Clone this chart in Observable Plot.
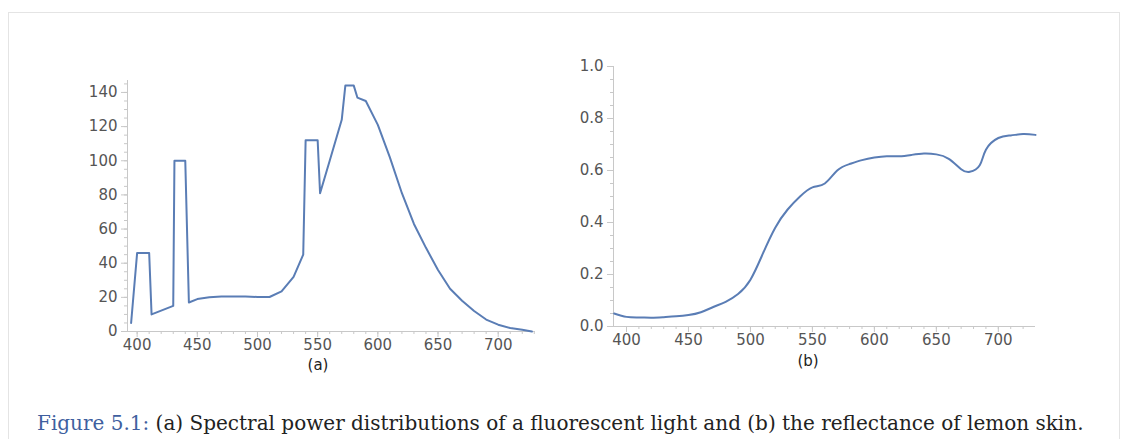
<!DOCTYPE html>
<html><head><meta charset="utf-8">
<script src="https://cdn.jsdelivr.net/npm/d3@7"></script>
<script src="https://cdn.jsdelivr.net/npm/@observablehq/plot@0.6"></script>
<style>
body{margin:0;background:#fff;width:1129px;height:439px;position:relative;overflow:hidden;font-family:"DejaVu Sans",sans-serif}
.frame{position:absolute;left:8px;top:12px;width:1110px;height:440px;border:1px solid #e4e4e4;border-bottom:none}
.p{position:absolute}
.lab{position:absolute;font-size:15px;color:#222;transform:translateX(-50%)}
.cap{position:absolute;left:37px;top:411px;font-family:"DejaVu Serif",serif;font-size:20px;color:#222;white-space:nowrap}
.cap span{color:#3f5f9f}
</style></head><body>
<div class="frame"></div>
<div id="a" class="p" style="left:80px;top:60px"></div>
<div id="b" class="p" style="left:560px;top:50px"></div>
<div class="lab" style="left:318px;top:356px">(a)</div>
<div class="lab" style="left:808px;top:352px">(b)</div>
<div class="cap"><span>Figure 5.1:</span> (a) Spectral power distributions of a fluorescent light and (b) the reflectance of lemon skin.</div>
<script>
const fluoWl = [395,400,410,412,430,431,440,443,450,460,470,490,500,510,520,530,538,540,550,552,560,570,573,580,583,590,600,610,620,630,640,650,660,670,680,690,700,710,720,728];
const fluoPower = [5,46,46,10,15,100,100,17,19,20,20.5,20.5,20.2,20.2,23.5,32,45,112,112,81,100,124,144,144,137,135,121,102,81,63,49,36,25,18,12,7,4,2,1,0];
const lemonWl = [390,400,410,420,430,440,450,460,470,480,490,500,510,520,530,540,550,560,570,580,590,600,610,620,630,640,650,660,670,677,685,690,700,710,720,730];
const lemonRefl = [0.05,0.037,0.035,0.034,0.036,0.039,0.044,0.055,0.075,0.095,0.125,0.18,0.28,0.38,0.45,0.5,0.535,0.55,0.6,0.625,0.64,0.65,0.655,0.655,0.66,0.665,0.662,0.645,0.605,0.595,0.62,0.68,0.725,0.735,0.74,0.737];

const LINE = "#5a7db5", AX = "#c8c8c8", TXT = "#555";
const blank = () => "";
function chart(o) {
  const data = o.xs.map((x, i) => ({x, y: o.ys[i]}));
  return Plot.plot({
    width: o.w, height: o.h,
    marginLeft: o.ml, marginRight: 15, marginTop: o.mt, marginBottom: o.mb,
    style: {fontFamily: "DejaVu Sans", fontSize: "15px", color: TXT, background: "transparent"},
    x: {domain: o.xd, label: null},
    y: {domain: o.yd, label: null},
    marks: [
      Plot.ruleY([o.yd[0]], {stroke: AX}),
      Plot.ruleX([o.xd[0]], {stroke: AX}),
      Plot.axisX(d3.range(400, o.xd[1], 10), {tickSize: 3, stroke: AX, tickFormat: blank}),
      Plot.axisX(d3.range(400, o.xd[1], 50), {tickSize: 6, stroke: AX, tickPadding: 2, fill: TXT}),
      Plot.axisY(o.minor, {tickSize: 3, stroke: AX, tickFormat: blank}),
      Plot.axisY(o.major, {tickSize: 6, stroke: AX, tickPadding: 4, fill: TXT, tickFormat: o.fmt}),
      Plot.line(data, {x: "x", y: "y", stroke: LINE, strokeWidth: 2, curve: o.curve})
    ]
  });
}
document.getElementById("a").appendChild(chart({
  xs: fluoWl, ys: fluoPower, w: 470, h: 300, ml: 47, mt: 20, mb: 29,
  xd: [392, 731], yd: [0, 147], major: d3.range(0, 141, 20), minor: d3.range(0, 146, 5),
  fmt: d => d, curve: "linear"
}));
document.getElementById("b").appendChild(chart({
  xs: lemonWl, ys: lemonRefl, w: 490, h: 300, ml: 53, mt: 16, mb: 24,
  xd: [389.5, 730], yd: [0, 1], major: d3.range(0, 1.01, 0.2), minor: d3.range(0, 1.001, 0.05),
  fmt: d3.format(".1f"), curve: "natural"
}));
</script>
</body></html>
